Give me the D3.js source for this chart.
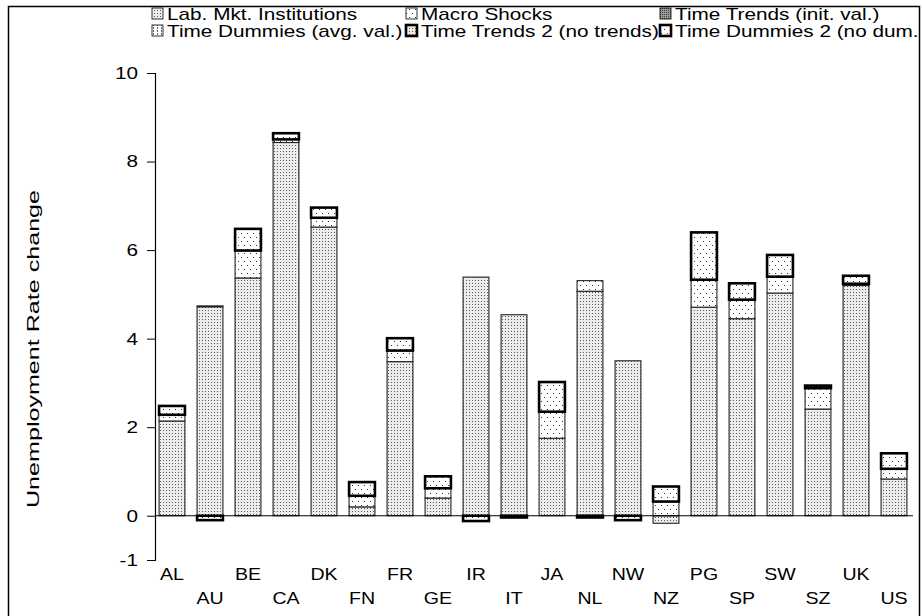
<!DOCTYPE html>
<html>
<head>
<meta charset="UTF-8">
<script src="https://cdn.jsdelivr.net/npm/d3@7/dist/d3.min.js"></script>
<style>
body{
    margin:0;
    background-color:#fff;
    font-family: "Liberation Sans", Arial, Helvetica, sans-serif;
}
</style>
</head>
<body>
<script>

var countries = ["AL","AU","BE","CA","DK","FN","FR","GE","IR","IT","JA","NL","NW","NZ","PG","SP","SW","SZ","UK","US"];
var labMkt   = [2.14, 4.72, 5.37, 8.43, 6.52, 0.20, 3.48, 0.40, 5.39, 4.54, 1.75, 5.07, 3.50, -0.17, 4.71, 4.45, 5.03, 2.41, 5.20, 0.83];
var macro    = [0.14, 0.02, 0.62, 0.07, 0.21, 0.25, 0.25, 0.22, 0, 0, 0.60, 0.24, 0, 0.32, 0.62, 0.43, 0.37, 0.47, 0.04, 0.23];
var trendsInit = [0,0,0,0,0,0,0,0,0,0,0,0,0,0,0,0,0,0,0,0];
var dummiesAvg = [0,0,0,0,0,0,0,0,0,0,0,0,0,0,0,0,0,0,0,0];
var trends2  = [0, 0, 0, 0, 0, 0, 0, 0, 0, -0.04, 0, -0.04, 0, 0, 0, 0, 0, 0.06, 0, 0];
var dummies2 = [0.20, -0.10, 0.49, 0.14, 0.23, 0.31, 0.28, 0.27, -0.12, 0, 0.67, 0, -0.10, 0.34, 1.07, 0.37, 0.49, 0, 0.18, 0.35];
var yTicks = [-1, 0, 2, 4, 6, 8, 10];
var legendNames = ["Lab. Mkt. Institutions", "Macro Shocks", "Time Trends (init. val.)",
                   "Time Dummies (avg. val.)", "Time Trends 2 (no trends)", "Time Dummies 2 (no dum.)"];

var keys = ["lab","macro","trend","dummy","trend2","dummy2"];
var table = countries.map(function(c, i){
    return {c: c, lab: labMkt[i], macro: macro[i], trend: trendsInit[i], dummy: dummiesAvg[i], trend2: trends2[i], dummy2: dummies2[i]};
});

var width = 922, height = 616;
var svg = d3.select("body").append("svg")
    .attr("width", width)
    .attr("height", height);

// the source chart uses a wide sans, so stretch glyphs horizontally
function stretch(sel, f){
    sel.each(function(){
        var L = this.getComputedTextLength();
        d3.select(this).attr("textLength", L * f).attr("lengthAdjust", "spacingAndGlyphs");
    });
}

// fill patterns
var defs = svg.append("defs");
function pattern(id, w, h, bg, dots, col){
    var p = defs.append("pattern").attr("id", id).attr("patternUnits","userSpaceOnUse")
        .attr("width", w).attr("height", h);
    p.append("rect").attr("width", w).attr("height", h).attr("fill", bg);
    dots.forEach(function(d){
        p.append("rect").attr("x", d[0]).attr("y", d[1]).attr("width",1).attr("height",1).attr("fill", col);
    });
}
pattern("p-lab", 3, 3, "#ececec", [[1,1]], "#5a5a5a");
pattern("p-macro", 6, 8, "#fff", [[1,1],[4,5]], "#333");
pattern("p-trend", 2, 2, "#9a9a9a", [[0,0]], "#444");
pattern("p-dummy", 4, 3, "#fff", [[1,0],[1,1]], "#666");

var fills = {lab:"url(#p-lab)", macro:"url(#p-macro)", trend:"url(#p-trend)", dummy:"url(#p-dummy)", trend2:"url(#p-lab)", dummy2:"url(#p-macro)"};
var thick = {trend2:true, dummy2:true};

var x = d3.scaleBand().domain(countries).range([153, 913]).paddingInner(0.32).paddingOuter(0.16);
var y = d3.scaleLinear().domain([-1, 10]).range([560, 73]);

var stack = d3.stack().keys(keys).offset(d3.stackOffsetDiverging);
var series = stack(table);

var gY = svg.append("g")
    .attr("transform","translate(155,0)")
    .call(d3.axisLeft(y).tickValues(yTicks).tickSize(8).tickPadding(9).tickFormat(function(d){ return String(d); }));
gY.selectAll("path").attr("stroke","#000").attr("stroke-width",1.2);
gY.selectAll("line").attr("stroke","#000");
gY.selectAll("text").attr("font-size",17).attr("fill","#000").attr("font-family","Liberation Sans, Arial, sans-serif");
stretch(gY.selectAll("text"), 1.22);

series.forEach(function(s){
    var k = s.key;
    svg.append("g").selectAll("rect")
        .data(s.filter(function(d){ return d[1] - d[0] !== 0; }))
        .enter().append("rect")
        .attr("x", function(d){ return x(d.data.c); })
        .attr("width", x.bandwidth())
        .attr("y", function(d){ return y(Math.max(d[0], d[1])); })
        .attr("height", function(d){ return Math.abs(y(d[0]) - y(d[1])); })
        .attr("fill", fills[k])
        .attr("stroke", thick[k] ? "#000" : "#222")
        .attr("stroke-width", thick[k] ? 2.6 : 1.1);
});

// zero line
svg.append("line")
    .attr("x1",155).attr("x2",913)
    .attr("y1",y(0)).attr("y2",y(0))
    .attr("stroke","#000").attr("stroke-width",1.2);

// category labels, alternating rows
var cats = svg.append("g").selectAll("text")
    .data(countries)
    .enter().append("text")
    .attr("x", function(d){ return x(d) + x.bandwidth()/2; })
    .attr("y", function(d, i){ return i % 2 === 0 ? 580 : 604; })
    .attr("text-anchor","middle")
    .attr("font-size",17)
    .text(function(d){ return d; });
stretch(cats, 1.15);

svg.append("text")
    .attr("transform","translate(39,349) rotate(-90)")
    .attr("text-anchor","middle")
    .attr("font-size",16)
    .attr("textLength", 318)
    .attr("lengthAdjust","spacingAndGlyphs")
    .text("Unemployment Rate change");

// legend
var legendKeys = ["lab","macro","trend","dummy","trend2","dummy2"];
var colX = [152, 406, 660];
var lg = svg.append("g");
legendNames.forEach(function(name, i){
    var cx = colX[i % 3], cy = i < 3 ? 14 : 31;
    var t = lg.append("text")
        .attr("x", cx + 15).attr("y", cy + 6)
        .attr("font-size",17)
        .text(name);
    stretch(t, 1.22);
});
legendNames.forEach(function(name, i){
    var k = legendKeys[i];
    var cx = colX[i % 3], cy = i < 3 ? 14 : 31;
    lg.append("rect")
        .attr("x", cx).attr("y", cy - 6)
        .attr("width", 11).attr("height", 11)
        .attr("fill", fills[k])
        .attr("stroke","#000")
        .attr("stroke-width", thick[k] ? 2.6 : 0.8);
});

// clip anything past the right edge, then the frame
svg.append("rect").attr("x", 920).attr("y", 0).attr("width", 10).attr("height", height).attr("fill","#fff");
svg.append("path")
    .attr("d", "M8.5,620V6.5H919.5V620")
    .attr("fill","none").attr("stroke","#000").attr("stroke-width",1.5);

</script>
</body>
</html>
